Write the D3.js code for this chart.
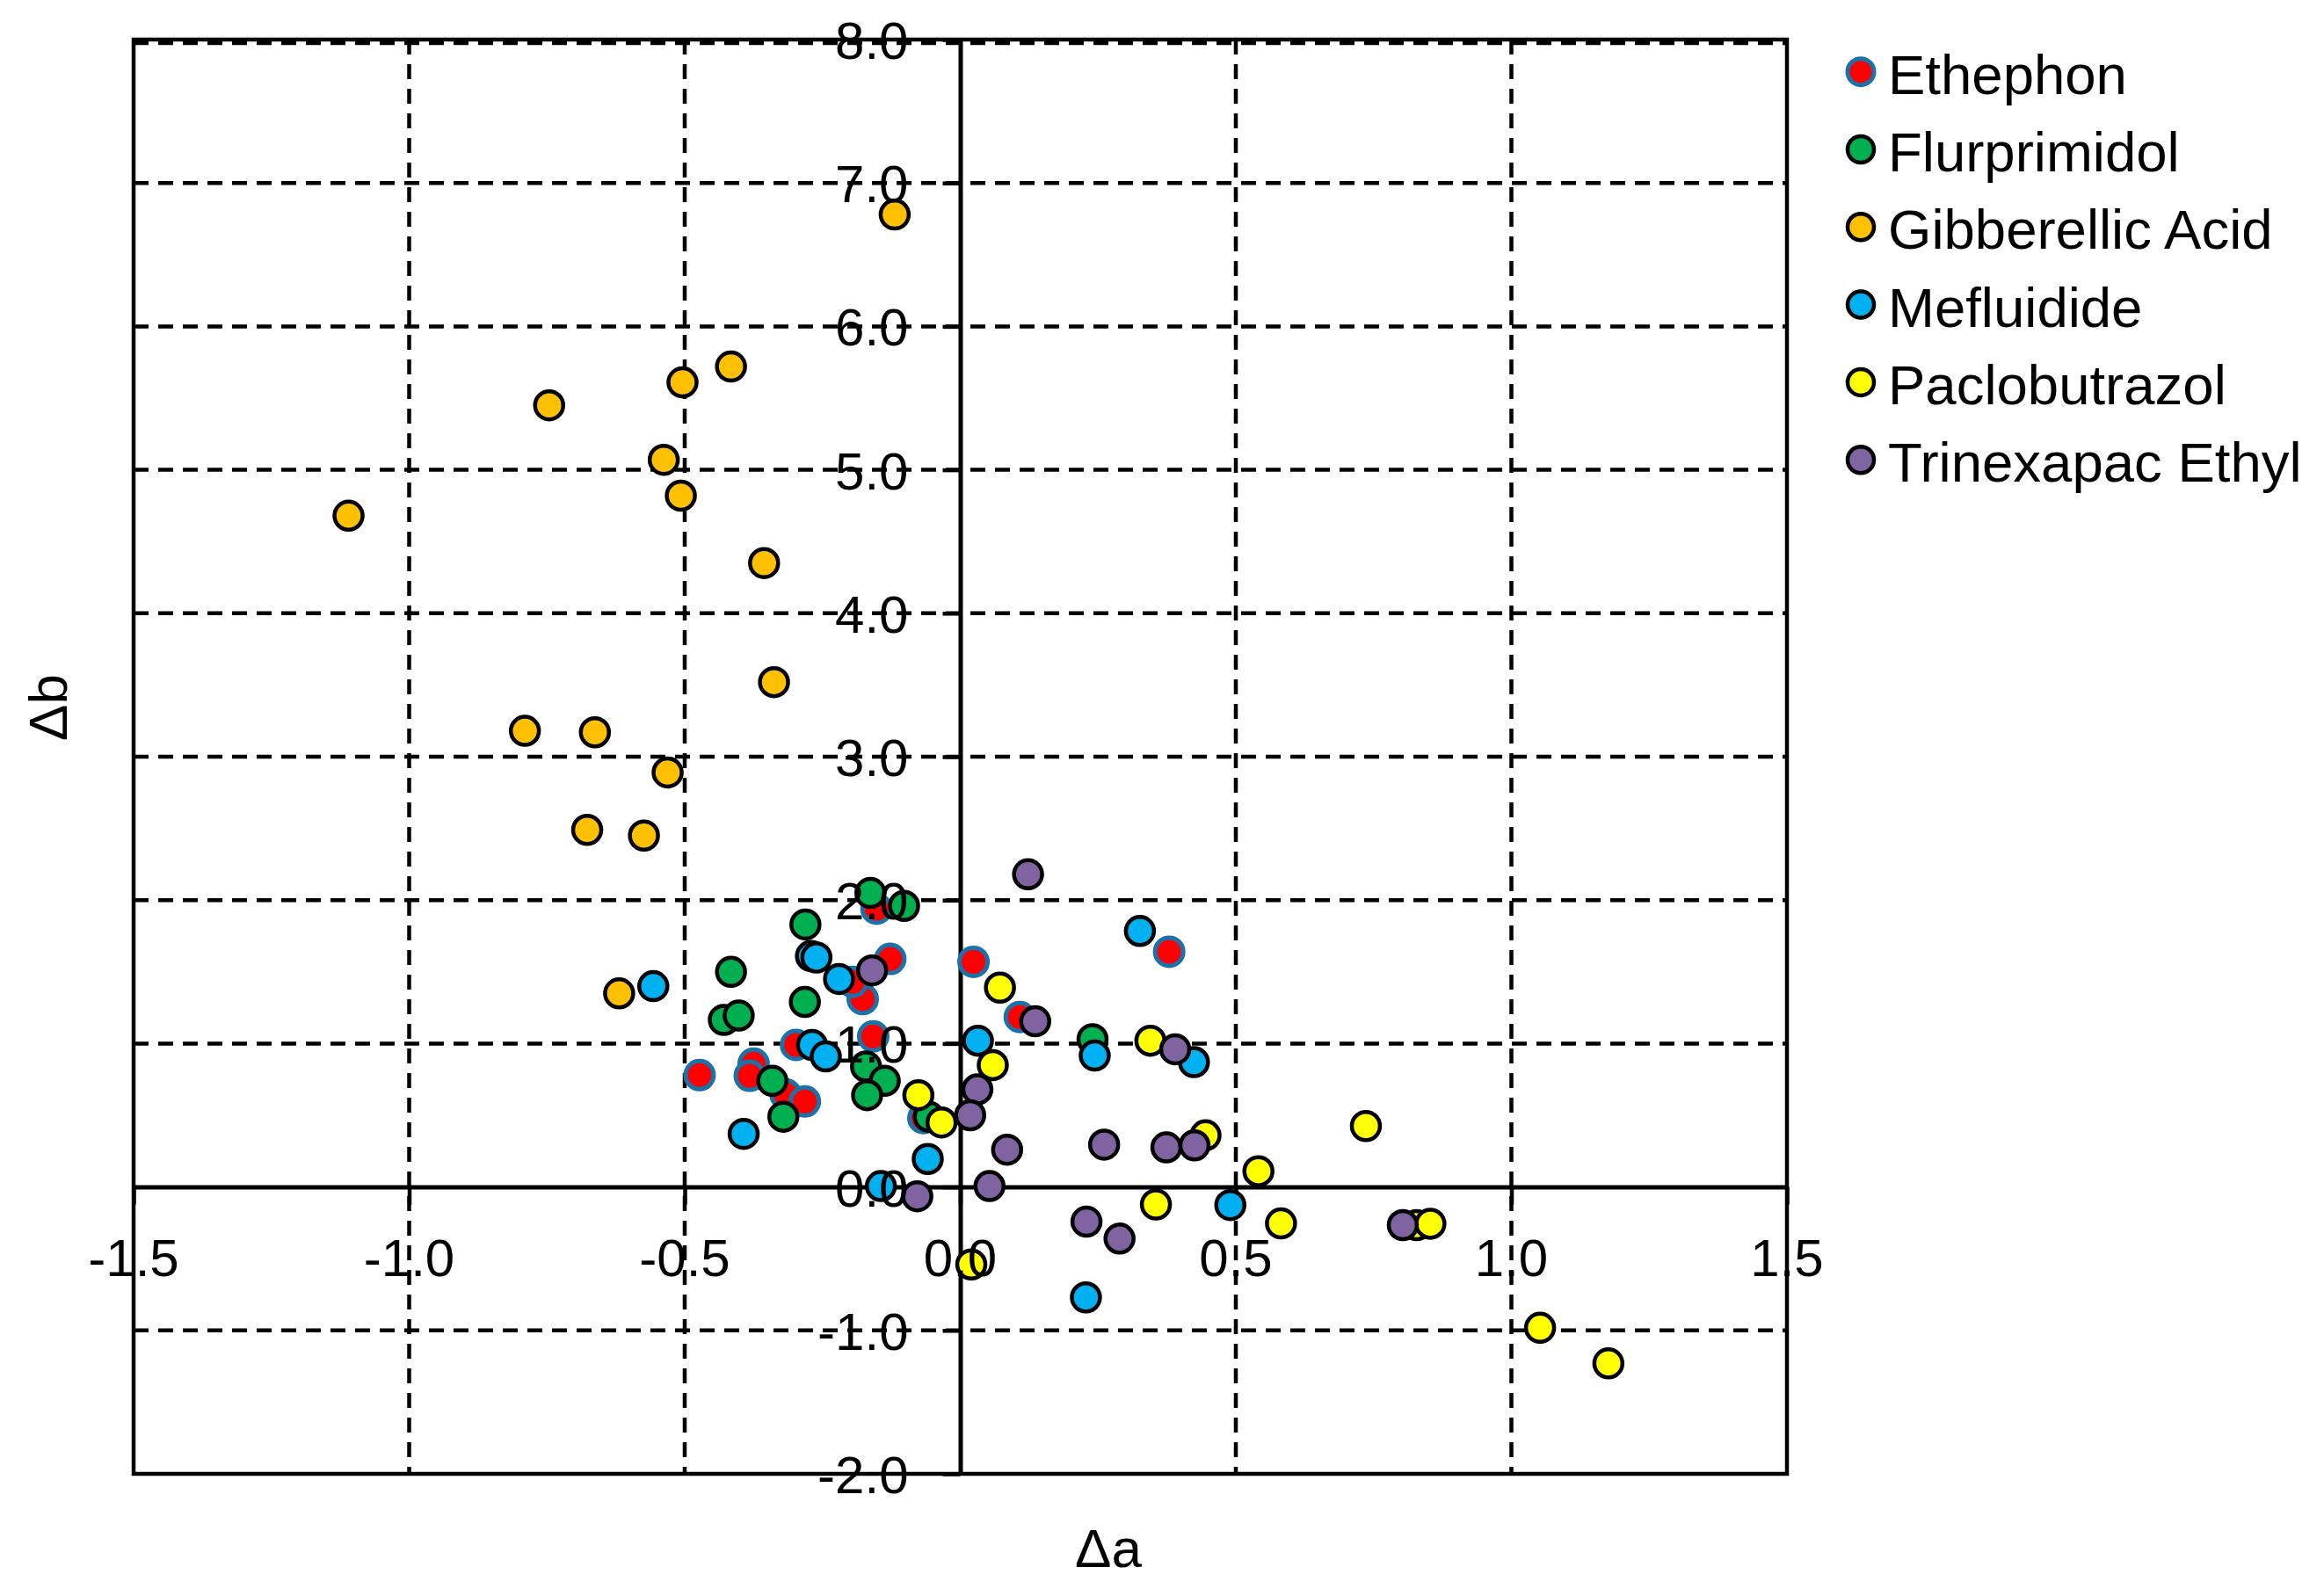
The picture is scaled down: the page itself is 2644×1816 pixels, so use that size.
<!DOCTYPE html>
<html>
<head>
<meta charset="utf-8">
<script src="https://cdn.jsdelivr.net/npm/d3@7"></script>
<style>
  html, body { margin: 0; padding: 0; background: #fff; }
  svg { display: block; font-family: "Liberation Sans", Arial, sans-serif; }
</style>
</head>
<body>
<svg id="chart" width="2644" height="1816"></svg>
<script>
// ---------------- data ----------------
const seriesNames = ["Ethephon", "Flurprimidol", "Gibberellic Acid", "Mefluidide", "Paclobutrazol", "Trinexapac Ethyl"];

const ethephonA = [-0.152, -0.127, -0.177, -0.195, 0.024, -0.158, -0.298, -0.473, -0.375, -0.382, -0.317, -0.282, -0.067, 0.379, 0.108];
const ethephonB = [1.94, 1.59, 1.31, 1.43, 1.57, 1.05, 0.99, 0.78, 0.86, 0.775, 0.646, 0.596, 0.48, 1.64, 1.185];

const flurprimidolA = [-0.163, -0.102, -0.281, -0.416, -0.282, -0.429, -0.402, -0.171, -0.137, -0.169, -0.341, -0.321, -0.057, 0.240];
const flurprimidolB = [2.05, 1.96, 1.83, 1.50, 1.29, 1.165, 1.195, 0.84, 0.74, 0.64, 0.74, 0.49, 0.49, 1.03];

const gibberellicA = [-0.119, -0.746, -0.504, -0.416, -0.538, -0.507, -1.110, -0.356, -0.338, -0.790, -0.663, -0.531, -0.677, -0.574, -0.619];
const gibberellicB = [6.78, 5.45, 5.61, 5.72, 5.07, 4.82, 4.68, 4.35, 3.52, 3.18, 3.17, 2.89, 2.49, 2.45, 1.35];

const mefluidideA = [-0.557, -0.271, -0.261, -0.220, -0.269, -0.244, -0.393, -0.059, -0.144, 0.032, 0.326, 0.244, 0.424, 0.228, 0.490];
const mefluidideB = [1.40, 1.61, 1.60, 1.45, 0.99, 0.91, 0.37, 0.195, 0.006, 1.02, 1.785, 0.916, 0.87, -0.77, -0.126];

const paclobutrazolA = [-0.076, -0.034, 0.072, 0.059, 0.345, 0.445, 0.541, 0.355, 0.582, 0.020, 0.736, 0.828, 0.853, 1.052, 1.176];
const paclobutrazolB = [0.64, 0.45, 1.39, 0.85, 1.02, 0.36, 0.11, -0.122, -0.254, -0.54, 0.425, -0.266, -0.256, -0.982, -1.230];

const trinexapacA = [-0.160, -0.078, 0.123, 0.136, 0.031, 0.018, 0.085, 0.053, 0.261, 0.374, 0.425, 0.390, 0.229, 0.289, 0.803];
const trinexapacB = [1.51, -0.065, 2.18, 1.155, 0.68, 0.50, 0.26, 0.006, 0.295, 0.276, 0.29, 0.96, -0.242, -0.36, -0.266];

const xTickValues = [-1.5, -1.0, -0.5, 0.0, 0.5, 1.0, 1.5];
const xTickLabels = ["-1.5", "-1.0", "-0.5", "0.0", "0.5", "1.0", "1.5"];
const yTickValues = [-2, -1, 0, 1, 2, 3, 4, 5, 6, 7, 8];
const yTickLabels = ["-2.0", "-1.0", "0.0", "1.0", "2.0", "3.0", "4.0", "5.0", "6.0", "7.0", "8.0"];

// ---------------- styles ----------------
const fills = ["#FF0000", "#00B050", "#FFC000", "#00B0F0", "#FFFF00", "#8064A2"];
const strokes = ["#1B71AA", "#000000", "#000000", "#000000", "#000000", "#000000"];
const strokeW = [5, 4.5, 4.5, 4.5, 4.5, 4.5];

const seriesA = [ethephonA, flurprimidolA, gibberellicA, mefluidideA, paclobutrazolA, trinexapacA];
const seriesB = [ethephonB, flurprimidolB, gibberellicB, mefluidideB, paclobutrazolB, trinexapacB];

// ---------------- layout ----------------
const svg = d3.select("#chart");
const L = 152, R = 2033, T = 45, B = 1677;

const x = d3.scaleLinear().domain([-1.5, 1.5]).range([L, R]);
const y = d3.scaleLinear().domain([-2, 8]).range([B, T]);

// grid (dashed)
const grid = svg.append("g").attr("stroke", "#000").attr("stroke-width", 4.5)
  .attr("stroke-dasharray", "17,11").attr("fill", "none");
grid.selectAll("line.vg")
  .data(xTickValues.filter(v => v !== 0 && Math.abs(v) !== 1.5))
  .join("line").attr("class", "vg")
  .attr("x1", d => x(d)).attr("x2", d => x(d))
  .attr("y1", T).attr("y2", B);
grid.selectAll("line.hg")
  .data(yTickValues.filter(v => v !== 0 && v !== -2))
  .join("line").attr("class", "hg")
  .attr("x1", L).attr("x2", R)
  .attr("y1", d => y(d) + (d === 8 ? 4 : 0)).attr("y2", d => y(d) + (d === 8 ? 4 : 0));

// frame
svg.append("rect").attr("x", L).attr("y", T).attr("width", R - L).attr("height", B - T)
  .attr("fill", "none").attr("stroke", "#000").attr("stroke-width", 4.5);

// axis lines through origin (drawn via d3 axes)
const yAxis = d3.axisLeft(y).tickValues(yTickValues)
  .tickFormat((d, i) => yTickLabels[i]).tickSize(20).tickSizeOuter(0).tickPadding(39);
const xAxis = d3.axisBottom(x).tickValues(xTickValues)
  .tickFormat((d, i) => xTickLabels[i]).tickSize(20).tickSizeOuter(0).tickPadding(38);

const gy = svg.append("g").attr("transform", `translate(${x(0)},0)`).call(yAxis);
const gx = svg.append("g").attr("transform", `translate(0,${y(0)})`).call(xAxis);

[gx, gy].forEach(g => {
  g.select(".domain").attr("stroke", "#000").attr("stroke-width", 5);
  g.selectAll(".tick line").attr("stroke", "#000").attr("stroke-width", 4.5);
  g.selectAll(".tick text").remove();
});

// points
const pts = svg.append("g");
seriesA.forEach((arr, s) => {
  const data = arr.map((a, i) => ({ a: a, b: seriesB[s][i] }));
  pts.append("g").selectAll("circle").data(data).join("circle")
    .attr("cx", d => x(d.a)).attr("cy", d => y(d.b)).attr("r", 16)
    .attr("fill", fills[s]).attr("stroke", strokes[s]).attr("stroke-width", strokeW[s]);
});

// tick labels on top
const labels = svg.append("g").attr("font-size", 60).attr("fill", "#000");
labels.selectAll("text.yl").data(yTickValues).join("text").attr("class", "yl")
  .attr("x", x(0) - 59).attr("y", d => y(d) + 22)
  .attr("text-anchor", "end").text((d, i) => yTickLabels[i]);
labels.selectAll("text.xl").data(xTickValues).join("text").attr("class", "xl")
  .attr("x", d => x(d)).attr("y", y(0) + 101)
  .attr("text-anchor", "middle").text((d, i) => xTickLabels[i]);

// axis titles
svg.append("text").attr("transform", "translate(76,805) rotate(-90)")
  .attr("text-anchor", "middle").attr("font-size", 62).text("Δb");
svg.append("text").attr("x", 1261).attr("y", 1783)
  .attr("text-anchor", "middle").attr("font-size", 62).text("Δa");

// legend
const leg = svg.append("g");
seriesNames.forEach((name, i) => {
  const cy = 81.7 + i * 88.3;
  leg.append("circle").attr("cx", 2117).attr("cy", cy).attr("r", 15)
    .attr("fill", fills[i]).attr("stroke", strokes[i]).attr("stroke-width", strokeW[i]);
  leg.append("text").attr("x", 2148).attr("y", cy + 25).attr("font-size", 63.5).text(name);
});
</script>
</body>
</html>
